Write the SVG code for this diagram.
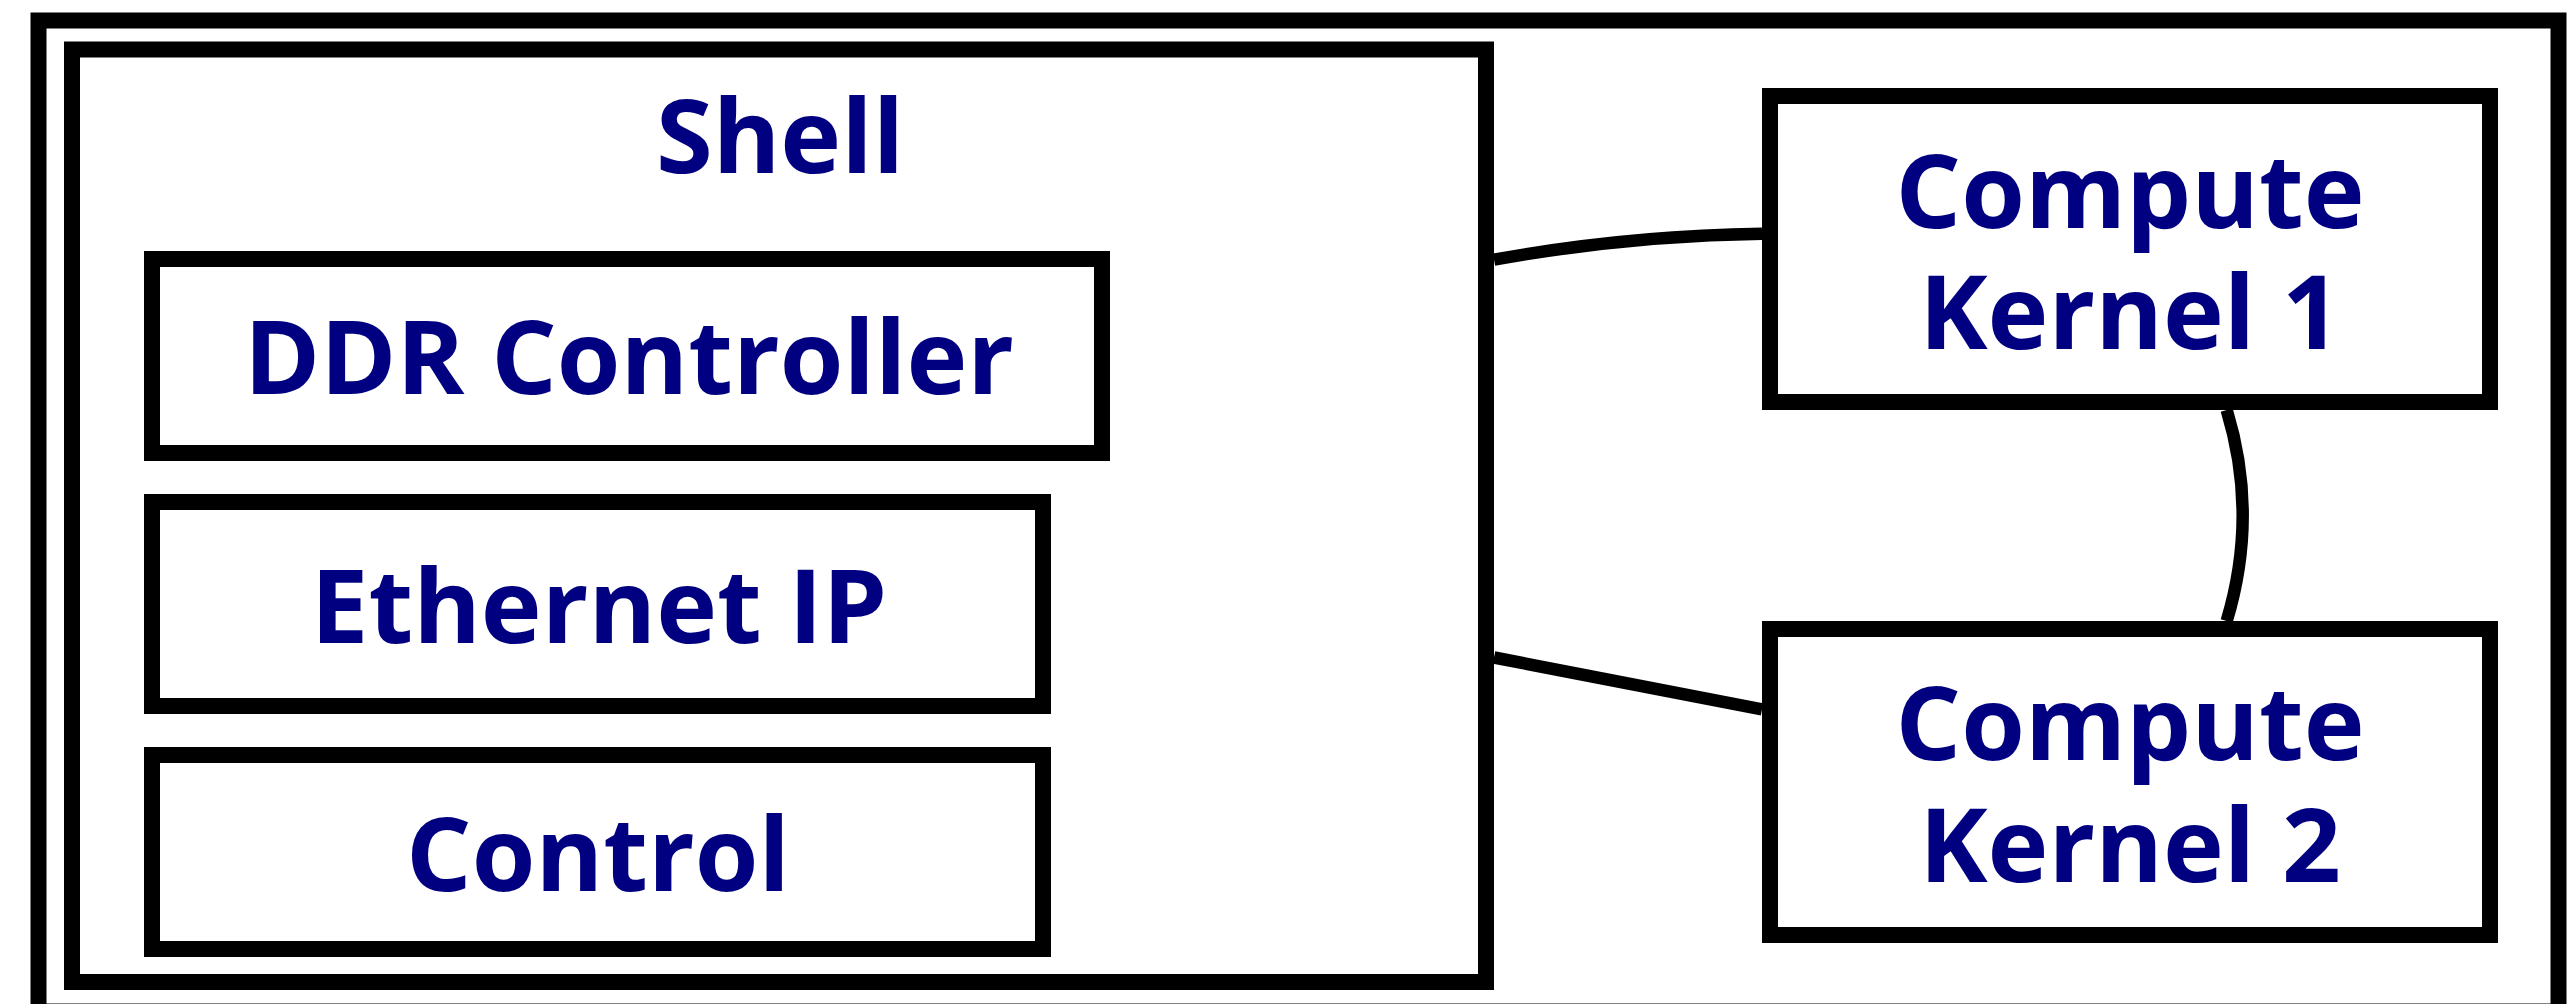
<svg xmlns="http://www.w3.org/2000/svg" width="2570" height="1004" viewBox="0 0 2570 1004">
  <style>
    .box { fill: #ffffff; stroke: #000000; stroke-width: 16; }
    .frame { fill: none; stroke: #000000; stroke-width: 16; }
    .wire { fill: none; stroke: #000000; stroke-width: 12.5; }
    .label { font-family: "Open Sans", "Noto Sans", "DejaVu Sans", sans-serif; font-weight: 700; font-size: 103px; fill: #000080; text-anchor: middle; }
  </style>
  <rect width="2570" height="1004" fill="#ffffff"/>

  <!-- board outline (bottom edge runs past the canvas) -->
  <g id="board">
    <rect class="frame" x="38.5" y="20.5" width="2520" height="991"/>
  </g>

  <!-- links between the shell and the kernels -->
  <g id="connectors">
    <path class="wire" d="M1494,259.7 Q1627,235.5 1762,233.7"/>
    <path class="wire" d="M2226.7,410 Q2258.7,515 2226.7,621"/>
    <line class="wire" x1="1494" y1="657.5" x2="1762" y2="709.3"/>
  </g>

  <g id="shell">
    <rect class="frame" x="72" y="49.5" width="1414" height="932.5"/>
    <text class="label" x="780" y="173">Shell</text>
  </g>

  <g id="ddr-controller">
    <rect class="box" x="152" y="259" width="950" height="194"/>
    <text class="label" x="629" y="394">DDR Controller</text>
  </g>

  <g id="ethernet-ip">
    <rect class="box" x="152" y="502" width="891" height="204"/>
    <text class="label" x="599" y="643">Ethernet IP</text>
  </g>

  <g id="control">
    <rect class="box" x="152" y="755" width="891" height="194"/>
    <text class="label" x="598" y="891">Control</text>
  </g>

  <g id="compute-kernel-1">
    <rect class="box" x="1770" y="96" width="720" height="306"/>
    <text class="label" x="2130" y="228">Compute</text>
    <text class="label" x="2130" y="349">Kernel 1</text>
  </g>

  <g id="compute-kernel-2">
    <rect class="box" x="1770" y="629" width="720" height="306"/>
    <text class="label" x="2130" y="760">Compute</text>
    <text class="label" x="2130" y="882">Kernel 2</text>
  </g>
</svg>
